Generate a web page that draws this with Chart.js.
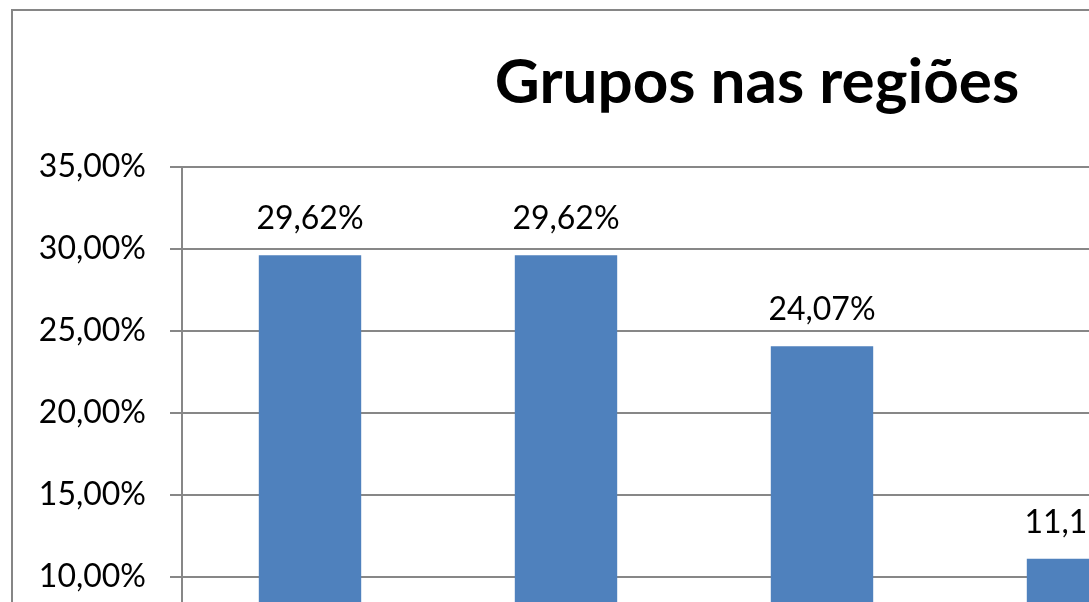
<!DOCTYPE html>
<html>
<head>
<meta charset="utf-8">
<script src="https://cdn.jsdelivr.net/npm/chart.js@4/dist/chart.umd.min.js"></script>
<style>
    html, body { margin: 0; padding: 0; background: #fff; overflow: hidden; width: 1089px; height: 602px; }
    #frame { position: absolute; left: 11px; top: 9px; border: 2px solid #868686; background: #fff; }
    canvas { display: block; }
</style>
</head>
<body>
<div id="frame">
    <canvas id="gruposChart" width="1488" height="800"></canvas>
</div>
<script>
// Chart data
const regioes = ['Sudeste', 'Nordeste', 'Sul', 'Norte', 'Centro-Oeste'];
const percentuais = [29.62, 29.62, 24.07, 11.11, 5.56];
const yTicks = [0, 5, 10, 15, 20, 25, 30, 35];

const fontFamily = 'Lato, "Open Sans", sans-serif';
const gridGray = '#878787';

// format like 29,62%
function pct(v) {
    return v.toFixed(2).replace('.', ',') + '%';
}

// draws the value above each bar
const barLabels = {
    id: 'barLabels',
    afterDatasetsDraw(chart) {
        const ctx = chart.ctx;
        const meta = chart.getDatasetMeta(0);
        ctx.save();
        ctx.font = '32px ' + fontFamily;
        ctx.fillStyle = '#000';
        ctx.textAlign = 'center';
        ctx.textBaseline = 'alphabetic';
        meta.data.forEach((bar, i) => {
            ctx.fillText(pct(percentuais[i]), bar.x, bar.y - 26);
        });
        ctx.restore();
    }
};

const ctx = document.getElementById('gruposChart').getContext('2d');
const gruposChart = new Chart(ctx, {
    type: 'bar',
    data: {
        labels: regioes,
        datasets: [{
            label: 'Série1',
            data: percentuais,
            backgroundColor: '#4f81bd',
            borderWidth: 0,
            categoryPercentage: 1,
            barPercentage: 0.4
        }]
    },
    options: {
        responsive: false,
        animation: false,
        layout: { padding: 0 },
        scales: {
            x: {
                grid: { display: false },
                border: { display: true, color: gridGray, width: 2 },
                ticks: { font: { family: fontFamily, size: 32 }, color: '#000' },
                afterFit(s) { s.height = 70; }
            },
            y: {
                min: 0,
                max: 35,
                afterBuildTicks(s) { s.ticks = yTicks.map(v => ({ value: v })); },
                grid: { color: gridGray, lineWidth: 2, tickLength: 12 },
                border: { color: gridGray, width: 2 },
                ticks: {
                    padding: 24,
                    color: '#000',
                    font: { family: fontFamily, size: 32 },
                    callback: function(value) {
                        return pct(value);
                    }
                },
                afterFit(s) { s.width = 169; }
            },
            // empty space right of the plot, keeps the title centred like the original
            yR: {
                position: 'right',
                display: true,
                grid: { display: false },
                border: { display: false },
                ticks: { display: false },
                afterFit(s) { s.width = 39; }
            }
        },
        plugins: {
            legend: { display: false },
            tooltip: { enabled: false },
            title: {
                display: true,
                text: 'Grupos nas regiões',
                color: '#000',
                font: { family: fontFamily, size: 62, weight: 'bold', lineHeight: 1.2 },
                padding: { top: 35, bottom: 46.6 }
            }
        }
    },
    plugins: [barLabels]
});
</script>
</body>
</html>
